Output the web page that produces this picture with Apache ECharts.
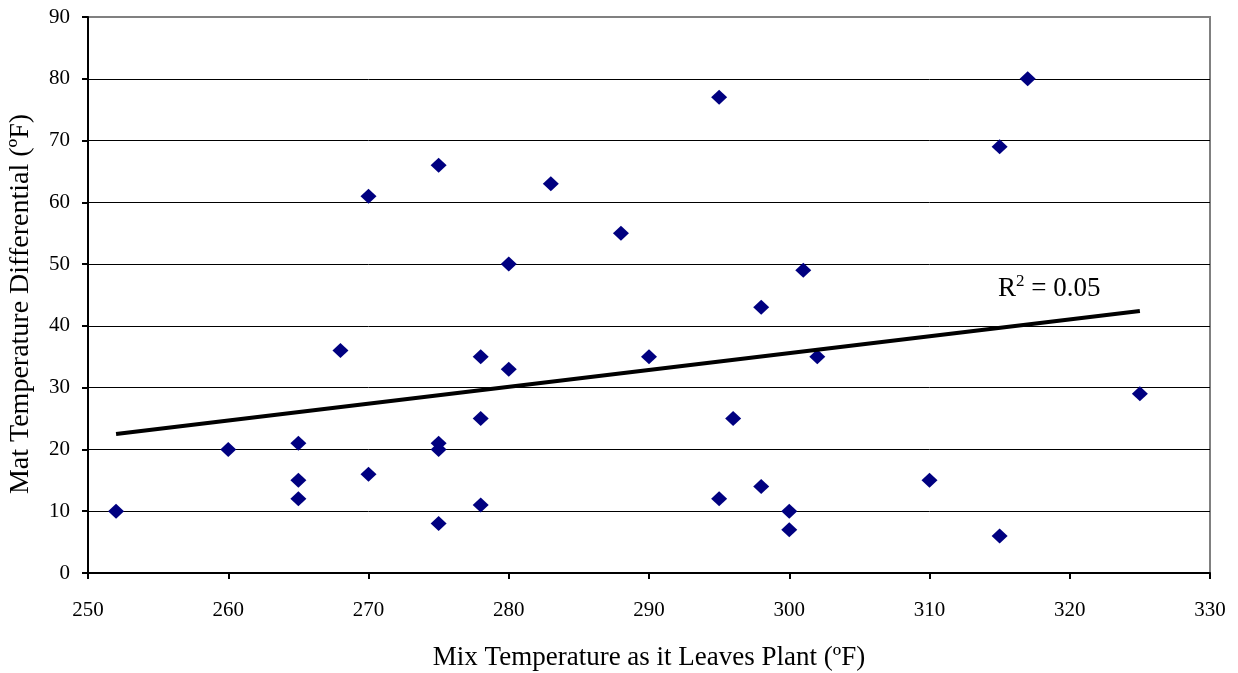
<!DOCTYPE html>
<html>
<head>
<meta charset="utf-8">
<script src="https://cdn.jsdelivr.net/npm/echarts@6/dist/echarts.min.js"></script>
<style>
  html, body { margin: 0; padding: 0; background: #fff; }
  #main { width: 1238px; height: 673px; }
</style>
</head>
<body>
<div id="main"></div>
<script>
// 原始数据: 出厂温度 vs 摊铺温差
var mixTemp = [252, 260, 265, 265, 265, 268, 270, 270, 275, 275, 275, 275, 278, 278, 278, 280, 280,
               283, 288, 290, 295, 295, 296, 298, 298, 300, 300, 301, 302, 310, 315, 315, 317, 325];
var matDiff = [10, 20, 21, 15, 12, 36, 61, 16, 66, 21, 20, 8, 35, 25, 11, 50, 33,
               63, 55, 35, 77, 12, 25, 43, 14, 10, 7, 49, 35, 15, 69, 6, 80, 29];

var xTicks = [250, 260, 270, 280, 290, 300, 310, 320, 330];
var yTicks = [0, 10, 20, 30, 40, 50, 60, 70, 80, 90];
var r2Text = "0.05";

var font = "'Liberation Serif', 'Times New Roman', serif";

var points = mixTemp.map(function (x, i) { return [x, matDiff[i]]; });

// 线性趋势线 (最小二乘)
function linearFit(xs, ys) {
  var n = xs.length, sx = 0, sy = 0, sxx = 0, sxy = 0;
  for (var i = 0; i < n; i++) {
    sx += xs[i]; sy += ys[i];
    sxx += xs[i] * xs[i]; sxy += xs[i] * ys[i];
  }
  var k = (n * sxy - sx * sy) / (n * sxx - sx * sx);
  var b = (sy - k * sx) / n;
  return { k: k, b: b };
}
var fit = linearFit(mixTemp, matDiff);
var xMin = Math.min.apply(null, mixTemp), xMax = Math.max.apply(null, mixTemp);
var trend = [[xMin, fit.k * xMin + fit.b], [xMax, fit.k * xMax + fit.b]];

var myChart = echarts.init(document.getElementById("main"), null, { renderer: "canvas" });

var option = {
  backgroundColor: "#fff",
  animation: false,
  grid: {
    left: 88, right: 28, top: 17, bottom: 100,
    outerBoundsMode: "none", containLabel: false,
    show: true, borderColor: "#808080", borderWidth: 2
  },
  xAxis: {
    type: "value",
    min: xTicks[0],
    max: xTicks[xTicks.length - 1],
    interval: 10,
    name: "Mix Temperature as it Leaves Plant (ºF)",
    nameLocation: "middle",
    nameGap: 71,
    nameTextStyle: { fontFamily: font, fontSize: 27, color: "#000" },
    axisLine: { show: true, onZero: false, lineStyle: { color: "#000", width: 2 } },
    axisTick: { show: true, inside: false, length: 6, lineStyle: { color: "#000", width: 2 } },
    axisLabel: { fontFamily: font, fontSize: 21, color: "#000", margin: 27 },
    splitLine: { show: false }
  },
  yAxis: {
    type: "value",
    min: yTicks[0],
    max: yTicks[yTicks.length - 1],
    interval: 10,
    name: "Mat Temperature Differential (ºF)",
    nameLocation: "middle",
    nameGap: 53,
    nameTextStyle: { fontFamily: font, fontSize: 28, color: "#000", padding: [0, 18, 0, 0] },
    axisLine: { show: true, onZero: false, lineStyle: { color: "#000", width: 2 } },
    axisTick: { show: true, inside: false, length: 6, lineStyle: { color: "#000", width: 2 } },
    axisLabel: { fontFamily: font, fontSize: 21, color: "#000", margin: 18 },
    splitLine: { show: true, showMaxLine: false, lineStyle: { color: "#000", width: 1 } }
  },
  series: [
    {
      type: "scatter",
      data: points,
      symbol: "diamond",
      symbolSize: [16, 15],
      itemStyle: { color: "#000080", opacity: 1 },
      z: 3
    },
    {
      type: "line",
      data: trend,
      symbol: "none",
      lineStyle: { color: "#000", width: 4 },
      z: 4
    }
  ],
  graphic: [
    {
      type: "text",
      left: 998,
      top: 273,
      style: {
        text: "{r|R}{s|2}{r| = " + r2Text + "}",
        rich: {
          r: { fontFamily: font, fontSize: 27, fill: "#000", verticalAlign: "bottom" },
          s: { fontFamily: font, fontSize: 17, fill: "#000", padding: [0, 0, 12, 0] }
        }
      }
    }
  ]
};

myChart.setOption(option);
</script>
</body>
</html>
